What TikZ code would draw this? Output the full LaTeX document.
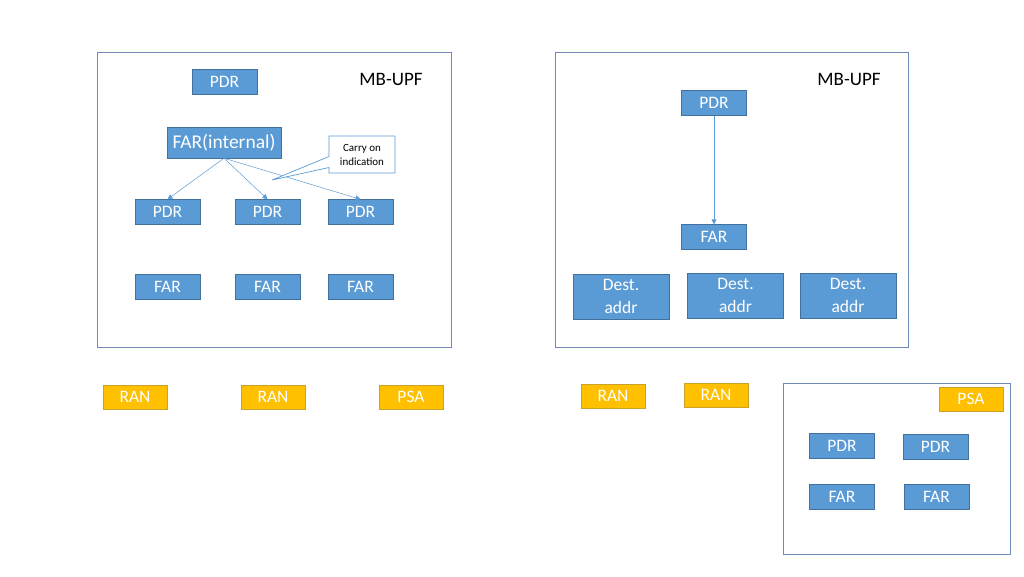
\documentclass[tikz,border=0pt]{standalone}
\usepackage{fontspec}
\setmainfont{Carlito}
\usetikzlibrary{arrows.meta,shapes.callouts}
\definecolor{rulefill}{HTML}{5B9BD5}
\definecolor{ruleline}{HTML}{41719C}
\definecolor{ranfill}{HTML}{FFC000}
\definecolor{ranline}{HTML}{C9A227}
\definecolor{upfline}{HTML}{6F8CB8}

\begin{document}
\begin{tikzpicture}[x=1pt,y=-1pt,
    rulebox/.style={draw=ruleline, fill=rulefill, text=white, font=\fontsize{17.5}{20}\selectfont,
        minimum width=65pt, minimum height=25pt, inner sep=0pt},
    destbox/.style={rulebox, minimum width=96pt, minimum height=45pt, align=center,
        font=\fontsize{17.5}{23}\selectfont},
    anbox/.style={draw=ranline, fill=ranfill, text=white, font=\fontsize{17.5}{20}\selectfont,
        minimum width=64pt, minimum height=24pt, inner sep=0pt},
    upfbox/.style={draw=upfline, line width=0.8pt},
    ruleflow/.style={draw=rulefill, -{Triangle[width=5pt,length=5pt]}, line width=0.5pt}]
    \useasboundingbox (0,0) rectangle (1024,576);

    % left MB-UPF
    \draw[upfbox] (97,52) rectangle (451,347);
    \node[font=\fontsize{19}{22}\selectfont] (upfA) at (391,79) {MB-UPF};
    \node[rulebox] (pdrTop) at (224.5,81.5) {PDR};
    \node[rulebox, minimum width=114pt, minimum height=31pt, font=\fontsize{19.5}{22}\selectfont] (farInt) at (224,142.5) {FAR(internal)};
    \node[rulebox] (pdrA) at (167.5,212) {PDR};
    \node[rulebox] (pdrB) at (267.5,212) {PDR};
    \node[rulebox] (pdrC) at (360.5,212) {PDR};
    \node[rulebox] (farA) at (167.5,286.5) {FAR};
    \node[rulebox] (farB) at (267.5,286.5) {FAR};
    \node[rulebox] (farC) at (360.5,286.5) {FAR};
    \draw[ruleflow] (farInt.south) -- (pdrA.north);
    \draw[ruleflow] (farInt.south) -- (pdrB.north);
    \draw[ruleflow] (farInt.south) -- (pdrC.north);
    \coordinate (carryTip) at (272,180);
    \node[rectangle callout, callout absolute pointer={(carryTip)}, callout pointer width=11pt,
        draw=rulefill, line width=0.7pt, fill=white, minimum width=66pt, minimum height=37pt, inner sep=0pt,
        align=center, font=\fontsize{11}{14}\selectfont] (carry) at (362,154.5) {Carry on\\indication};

    % right MB-UPF
    \draw[upfbox] (555,52) rectangle (908,347);
    \node[font=\fontsize{19}{22}\selectfont] (upfB) at (849,79) {MB-UPF};
    \node[rulebox] (pdrD) at (714,103) {PDR};
    \node[rulebox] (farD) at (714,237) {FAR};
    \draw[ruleflow] (pdrD) -- (farD);
    \node[destbox] (destA) at (621,296.5) {Dest.\\addr};
    \node[destbox] (destB) at (735.5,295.5) {Dest.\\addr};
    \node[destbox] (destC) at (848,295.5) {Dest.\\addr};

    % access nodes
    \node[anbox] (ranA) at (135,397) {RAN};
    \node[anbox] (ranB) at (273,397) {RAN};
    \node[anbox] (psaA) at (411,397) {PSA};
    \node[anbox] (ranC) at (613,396) {RAN};
    \node[anbox] (ranD) at (716,395) {RAN};

    % PSA box
    \draw[upfbox] (783,383) rectangle (1010,554);
    \node[anbox] (psaB) at (971,399) {PSA};
    \node[rulebox] (pdrE) at (842,446) {PDR};
    \node[rulebox] (pdrF) at (935.5,446.5) {PDR};
    \node[rulebox] (farE) at (842,497) {FAR};
    \node[rulebox] (farF) at (936.5,497) {FAR};
\end{tikzpicture}
\end{document}
